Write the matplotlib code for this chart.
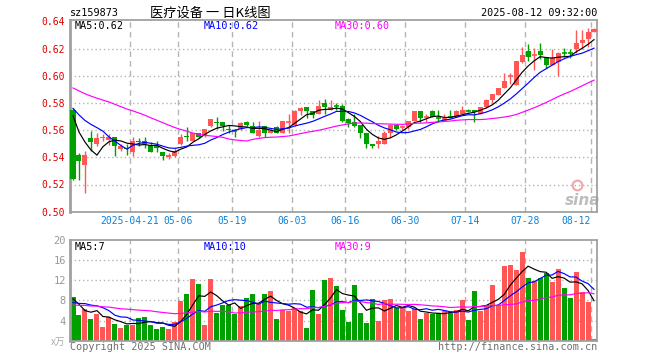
import numpy as np
import pandas as pd
import matplotlib
matplotlib.use('Agg')
import matplotlib.pyplot as plt

# ---------------- data ----------------
code_label = 'sz159873'
title_label = '医疗设备 一 日K线图'
timestamp_label = '2025-08-12 09:32:00'
holidays = ['2025-05-01', '2025-05-02', '2025-05-05', '2025-06-02']
dates = [d.strftime('%Y-%m-%d') for d in pd.bdate_range('2025-04-07', '2025-08-12')
         if d.strftime('%Y-%m-%d') not in holidays]

tick_dates = ['2025-04-21', '2025-05-06', '2025-05-19', '2025-06-03', '2025-06-16',
              '2025-06-30', '2025-07-14', '2025-07-28', '2025-08-12']
tick_labels = ['2025-04-21', '05-06', '05-19', '06-03', '06-16', '06-30', '07-14', '07-28', '08-12']

opens = [0.575, 0.542, 0.534, 0.554, 0.550, 0.554, 0.553, 0.555, 0.546, 0.547,
         0.544, 0.552, 0.552, 0.548, 0.548, 0.544, 0.540, 0.541, 0.550, 0.556,
         0.552, 0.558, 0.556, 0.563, 0.566, 0.566, 0.561, 0.5600, 0.561, 0.566,
         0.563, 0.556, 0.563, 0.558, 0.562, 0.558, 0.5652, 0.564, 0.574, 0.577,
         0.574, 0.572, 0.580, 0.575, 0.5788, 0.578, 0.568, 0.566, 0.564, 0.558,
         0.550, 0.550, 0.550, 0.558, 0.564, 0.5617, 0.562, 0.567, 0.574, 0.569,
         0.574, 0.5698, 0.567, 0.5698, 0.570, 0.572, 0.5747, 0.575, 0.572, 0.577,
         0.5825, 0.586, 0.591, 0.599, 0.593, 0.610, 0.618, 0.6144, 0.618, 0.613,
         0.608, 0.610, 0.6173, 0.6173, 0.620, 0.624, 0.627, 0.632]
highs = [0.576, 0.543, 0.545, 0.559, 0.558, 0.557, 0.557, 0.555, 0.550, 0.550,
         0.555, 0.554, 0.555, 0.551, 0.552, 0.544, 0.543, 0.547, 0.557, 0.562,
         0.558, 0.558, 0.561, 0.568, 0.570, 0.566, 0.564, 0.561, 0.566, 0.567,
         0.566, 0.567, 0.563, 0.561, 0.563, 0.567, 0.572, 0.575, 0.577, 0.577,
         0.574, 0.582, 0.583, 0.582, 0.580, 0.579, 0.569, 0.572, 0.564, 0.558,
         0.550, 0.556, 0.559, 0.5645, 0.564, 0.564, 0.567, 0.574, 0.574, 0.5715,
         0.575, 0.575, 0.5715, 0.575, 0.575, 0.578, 0.5752, 0.575, 0.577, 0.583,
         0.5864, 0.591, 0.602, 0.602, 0.611, 0.621, 0.623, 0.6205, 0.624, 0.613,
         0.620, 0.6175, 0.6205, 0.620, 0.6335, 0.6335, 0.635, 0.635]
lows = [0.523, 0.523, 0.514, 0.545, 0.548, 0.552, 0.549, 0.541, 0.545, 0.542,
        0.541, 0.548, 0.547, 0.544, 0.544, 0.538, 0.539, 0.540, 0.549, 0.552,
        0.552, 0.554, 0.555, 0.562, 0.561, 0.559, 0.558, 0.555, 0.560, 0.563,
        0.558, 0.555, 0.555, 0.558, 0.558, 0.558, 0.558, 0.563, 0.571, 0.569,
        0.569, 0.572, 0.572, 0.575, 0.575, 0.566, 0.562, 0.562, 0.554, 0.547,
        0.547, 0.547, 0.550, 0.554, 0.560, 0.560, 0.561, 0.567, 0.566, 0.566,
        0.570, 0.566, 0.567, 0.569, 0.570, 0.572, 0.5735, 0.566, 0.572, 0.576,
        0.5796, 0.586, 0.591, 0.594, 0.593, 0.609, 0.611, 0.604, 0.612, 0.606,
        0.608, 0.600, 0.614, 0.613, 0.617, 0.620, 0.621, 0.632]
closes = [0.524, 0.537, 0.542, 0.551, 0.554, 0.555, 0.555, 0.548, 0.548, 0.546,
          0.552, 0.551, 0.550, 0.544, 0.547, 0.541, 0.542, 0.545, 0.555, 0.555,
          0.558, 0.555, 0.561, 0.568, 0.565, 0.563, 0.560, 0.5595, 0.565, 0.564,
          0.558, 0.560, 0.558, 0.560, 0.558, 0.567, 0.5658, 0.574, 0.576, 0.574,
          0.571, 0.578, 0.577, 0.577, 0.5780, 0.567, 0.565, 0.563, 0.558, 0.550,
          0.548, 0.552, 0.558, 0.5635, 0.561, 0.5622, 0.567, 0.574, 0.569, 0.5695,
          0.570, 0.569, 0.569, 0.5693, 0.574, 0.575, 0.5742, 0.573, 0.577, 0.582,
          0.5864, 0.591, 0.596, 0.5995, 0.611, 0.615, 0.614, 0.6149, 0.615, 0.608,
          0.613, 0.617, 0.6168, 0.6166, 0.624, 0.626, 0.632, 0.634]
# closes before the visible window (needed for the moving averages)
prev_closes = [0.602, 0.605, 0.603, 0.600, 0.598, 0.596, 0.599, 0.601, 0.597, 0.594,
               0.596, 0.600, 0.602, 0.599, 0.597, 0.595, 0.598, 0.596, 0.594, 0.598,
               0.585, 0.583, 0.580, 0.578, 0.581, 0.597, 0.579, 0.580, 0.573]

volumes = [8.7, 5.2, 6.2, 4.4, 5.4, 2.8, 4.7, 3.4, 2.6, 3.2,
           3.2, 4.6, 4.8, 3.1, 2.3, 2.8, 2.3, 3.8, 7.9, 9.3,
           12.3, 11.3, 3.2, 12.3, 5.6, 7.1, 7.1, 5.4, 6.8, 8.5,
           9.3, 7.2, 9.3, 9.9, 4.3, 6.0, 5.8, 6.4, 5.9, 2.5,
           10.1, 5.3, 12.0, 12.5, 10.9, 6.1, 3.8, 11.1, 5.6, 3.6,
           8.3, 4.0, 8.0, 8.3, 6.4, 6.4, 5.9, 6.3, 4.3, 5.6,
           5.4, 5.6, 5.9, 5.6, 6.0, 8.1, 4.1, 9.9, 5.9, 7.0,
           11.1, 7.1, 14.8, 15.0, 14.0, 17.7, 12.5, 11.9, 12.5, 13.4,
           11.6, 14.2, 10.5, 8.5, 13.6, 9.7, 7.6, 0.3]
prev_volumes = [7.5, 6.2, 8.1, 5.9, 7.0, 6.4, 8.8, 7.2, 5.5, 6.1,
                7.7, 6.6, 5.8, 7.4, 6.9, 6.3, 7.1, 6.0, 7.3, 6.9,
                7.2, 6.5, 7.4, 6.8, 6.6, 10.5, 12.5, 6.0, 3.8]

ma_windows = [5, 10, 30]
ma_colors = ['#000000', '#0000ff', '#ff00ff']
price_ma_texts = ['MA5:0.62', 'MA10:0.62', 'MA30:0.60']
vol_ma_texts = ['MA5:7', 'MA10:10', 'MA30:9']

price_ticks = [0.50, 0.52, 0.54, 0.56, 0.58, 0.60, 0.62, 0.64]
vol_ticks = [4, 8, 12, 16, 20]

# ---------------- style ----------------
RED = '#ff5656'
GREEN = '#00a000'
GRID = '#b4b4b4'
FRAME = '#a0a0a0'
MONO = 'DejaVu Sans Mono'
CJK = ['Noto Sans CJK SC', 'DejaVu Sans']

W, H = 660, 360
fig = plt.figure(figsize=(6.6, 3.6), dpi=100)


def fx(x):
    return x / W


def fy(y):
    return 1 - y / H


L, R = 70, 597
P_TOP, P_BOT = 20, 211.7
V_TOP, V_BOT = 240, 340.7

axp = fig.add_axes([fx(L), fy(P_BOT), (R - L) / W, (P_BOT - P_TOP) / H])
axv = fig.add_axes([fx(L), fy(V_BOT), (R - L) / W, (V_BOT - V_TOP) / H])

n = len(closes)
x = np.arange(n)
o = np.array(opens); h = np.array(highs); lo = np.array(lows); c = np.array(closes)
up = c >= o
cols = np.where(up, RED, GREEN)

full_c = pd.Series(prev_closes + closes)
full_v = pd.Series(prev_volumes + volumes)
npc = len(prev_closes)
npv = len(prev_volumes)

for ax in (axp, axv):
    ax.set_xlim(-0.5, n - 0.5)
    for s in ax.spines.values():
        s.set_color(FRAME)
        s.set_linewidth(1.3)
    ax.spines['left'].set_linewidth(2)

# tick positions (left edge of the candle of each label date)
tick_idx = [dates.index(d) for d in tick_dates]
grid_x = [i - 0.5 for i in tick_idx]

# ---------- price panel ----------
axp.set_ylim(0.50, 0.50 + (P_BOT - P_TOP) / 1360)
for yv in price_ticks[1:-1]:
    axp.axhline(yv, color=GRID, lw=1, ls=(0, (1, 2)), zorder=0)
for gx in grid_x:
    axp.axvline(gx, color=GRID, lw=1, ls=(0, (4, 3)), zorder=0)

axp.vlines(x, lo, h, colors=cols, lw=1, zorder=2)
body = np.abs(c - o)
body_min = np.minimum(o, c)
flat = body < 0.0009
axp.bar(x[~flat], body[~flat], bottom=body_min[~flat], width=0.84, color=cols[~flat], zorder=3, linewidth=0)
axp.hlines(c[flat], x[flat] - 0.42, x[flat] + 0.42, colors=cols[flat], lw=1.2, zorder=3)

for w, col in zip(ma_windows, ma_colors):
    ma = full_c.rolling(w).mean().values[npc:]
    axp.plot(x, ma, color=col, lw=0.85, zorder=4)

axp.set_yticks(price_ticks)
axp.set_yticklabels([f'{t:.2f}' for t in price_ticks], color='#e00000', fontfamily=MONO, fontsize=7)
axp.set_xticks(grid_x)
axp.set_xticklabels(tick_labels, color='#0a82dc', fontfamily=MONO, fontsize=7)
axp.get_xticklabels()[-1].set_ha('right')
axp.tick_params(axis='both', length=0)
axp.tick_params(axis='y', pad=4)
axp.tick_params(axis='x', pad=3)

# sina watermark
axp.text(0.972, 0.06, 'sina', transform=axp.transAxes, ha='center', va='center',
         fontsize=11, fontweight='bold', fontstyle='italic', color='#bdbdbd', zorder=1)
axp.plot([0.962], [0.14], marker='o', ms=7, mfc='none', mec='#f3a6a6', mew=1.5,
         transform=axp.transAxes, zorder=1)

# ---------- volume panel ----------
axv.set_ylim(0, 20)
for yv in vol_ticks[:-1]:
    axv.axhline(yv, color=GRID, lw=1, ls=(0, (1, 2)), zorder=0)
for gx in grid_x:
    axv.axvline(gx, color=GRID, lw=1, ls=(0, (4, 3)), zorder=0)
axv.bar(x, volumes, width=0.84, color=cols, linewidth=0, zorder=2)
for w, col in zip(ma_windows, ma_colors):
    ma = full_v.rolling(w).mean().values[npv:]
    axv.plot(x, ma, color=col, lw=0.85, zorder=3)
axv.set_yticks(vol_ticks)
axv.set_yticklabels([str(t) for t in vol_ticks], color='#999999', fontfamily=MONO, fontsize=7.5)
axv.set_xticks(grid_x)
axv.set_xticklabels([])
axv.tick_params(axis='both', length=0)
axv.tick_params(axis='y', pad=3)

# ---------- texts ----------
fig.text(fx(70), fy(13), code_label, fontfamily=MONO, fontsize=7.3, ha='left', va='center', color='#000000')
fig.text(fx(150), fy(13), title_label, fontfamily=CJK, fontsize=9.5, ha='left', va='center', color='#000000')
fig.text(fx(597), fy(13), timestamp_label, fontfamily=MONO, fontsize=7.3, ha='right', va='center', color='#000000')

for txt, col, xx in zip(price_ma_texts, ma_colors, [75, 204, 335]):
    fig.text(fx(xx), fy(26), txt, fontfamily=MONO, fontsize=7.3, ha='left', va='center', color=col)
for txt, col, xx in zip(vol_ma_texts, ma_colors, [75, 204, 335]):
    fig.text(fx(xx), fy(247), txt, fontfamily=MONO, fontsize=7.3, ha='left', va='center', color=col)

fig.text(fx(65), fy(342), 'x万', fontfamily=CJK, fontsize=7, ha='right', va='center', color='#aaaaaa')
fig.text(fx(70), fy(347), 'Copyright 2025 SINA.COM', fontfamily=MONO, fontsize=7.3, ha='left', va='center', color='#707070')
fig.text(fx(597), fy(347), 'http://finance.sina.com.cn', fontfamily=MONO, fontsize=7.3, ha='right', va='center', color='#707070')

fig.savefig('out.png', dpi=100, facecolor='white')
